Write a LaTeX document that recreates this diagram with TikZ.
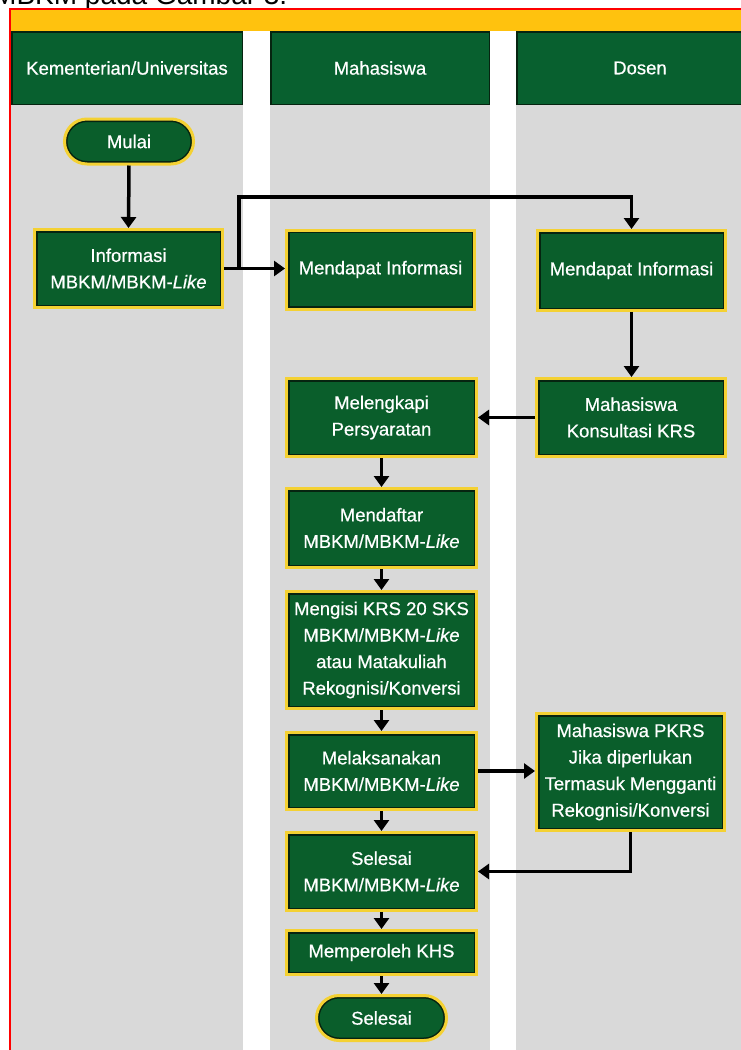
\documentclass[tikz,border=0pt]{standalone}
\usepackage{fontspec}
\setmainfont{Liberation Sans}
\newfontfamily\boxfont[FakeBold=0.6]{Liberation Sans}
\usetikzlibrary{arrows.meta}
\definecolor{hdrgreen}{HTML}{08602F}
\definecolor{boxgreen}{HTML}{0A5E2B}
\definecolor{boxyellow}{HTML}{F4D133}
\definecolor{lanegray}{HTML}{D9D9D9}
\definecolor{bandyellow}{HTML}{FFC20E}
\definecolor{edgedark}{HTML}{062410}
\definecolor{framered}{HTML}{FF0000}
\tikzset{
  lanehdr/.style={rectangle, fill=hdrgreen, draw=edgedark, line width=1.5pt, text=white,
    font=\boxfont\fontsize{18.5}{22}\selectfont, minimum height=72.5pt, inner sep=0pt},
  stepbox/.style={rectangle, fill=boxgreen, draw=boxyellow, line width=3pt, text=white,
    font=\boxfont\fontsize{18.5}{26.5}\selectfont, align=center, inner sep=0pt,
    path picture={\draw[line width=6pt, edgedark] (path picture bounding box.south west) rectangle (path picture bounding box.north east);}},
  termbox/.style={stepbox, rounded corners=22.5pt,
    path picture={\draw[line width=6pt, edgedark, rounded corners=22.5pt] (path picture bounding box.south west) rectangle (path picture bounding box.north east);}},
  flow/.style={line width=3.5pt, -{Triangle[length=11pt,width=15pt]}},
}
\begin{document}
\begin{tikzpicture}[x=1pt, y=-1pt]
\useasboundingbox (0,0) rectangle (741,1050);
\fill[white] (0,0) rectangle (741,1050);
% clipped caption fragment at top
\begin{scope}
  \clip (0,0) rectangle (741,8);
  \node[anchor=base west, inner sep=0pt, font=\fontsize{28}{28}\selectfont] (cap) at (-7,4) {MBKM pada Gambar 3.};
\end{scope}
% band and lanes
\fill[bandyellow] (11,9) rectangle (741,31);
\fill[lanegray] (11,105) rectangle (243,1050);
\fill[lanegray] (270,105) rectangle (490,1050);
\fill[lanegray] (516,105) rectangle (741,1050);
\node[lanehdr, minimum width=230.5pt] (h1) at (127,68) {Kementerian/Universitas};
\node[lanehdr, minimum width=218.5pt] (h2) at (380,68) {Mahasiswa};
\node[lanehdr, minimum width=246pt] (h3) at (640,68) {Dosen};
\draw[framered, line width=2pt] (10,1060) -- (10,9) -- (760,9);
% nodes
\node[termbox, minimum width=129pt, minimum height=45pt] (mulai) at (129,141.5) {Mulai};
\node[stepbox, minimum width=188pt, minimum height=78pt] (info) at (128.5,268.5) {Informasi\\MBKM/MBKM-\textit{Like}};
\node[stepbox, minimum width=188pt, minimum height=79pt] (mi2) at (380.5,269.5) {Mendapat Informasi};
\node[stepbox, minimum width=188pt, minimum height=80pt] (mi3) at (631.5,270.5) {Mendapat Informasi};
\node[stepbox, minimum width=189pt, minimum height=78pt] (kons) at (631,417.5) {Mahasiswa\\Konsultasi KRS};
\node[stepbox, minimum width=190pt, minimum height=78pt] (leng) at (381.5,417.5) {Melengkapi\\Persyaratan};
\node[stepbox, minimum width=190pt, minimum height=79pt] (daftar) at (381.5,528) {Mendaftar\\MBKM/MBKM-\textit{Like}};
\node[stepbox, minimum width=190pt, minimum height=117pt] (isi) at (381.5,650) {Mengisi KRS 20 SKS\\MBKM/MBKM-\textit{Like}\\atau Matakuliah\\Rekognisi/Konversi};
\node[stepbox, minimum width=190pt, minimum height=77pt] (laks) at (381.5,771) {Melaksanakan\\MBKM/MBKM-\textit{Like}};
\node[stepbox, minimum width=188pt, minimum height=117pt] (pkrs) at (630.5,772) {Mahasiswa PKRS\\Jika diperlukan\\Termasuk Mengganti\\Rekognisi/Konversi};
\node[stepbox, minimum width=190pt, minimum height=78pt] (sel) at (381.5,871.5) {Selesai\\MBKM/MBKM-\textit{Like}};
\node[stepbox, minimum width=190pt, minimum height=44pt] (khs) at (381.5,952.5) {Memperoleh KHS};
\node[termbox, minimum width=130pt, minimum height=45pt] (akhir) at (381.5,1018) {Selesai};
% connectors
\coordinate (bt) at (239,197);
\draw[flow] (mulai.south) -- (info.north);
\draw[flow] (info.east) -- (info.east -| mi2.west);
\draw[flow] (info.east) -| (bt) -| (mi3.north);
\draw[flow] (mi3.south) -- (mi3.south |- kons.north);
\draw[flow] (kons.west) -- (leng.east);
\draw[flow] (leng.south) -- (daftar.north);
\draw[flow] (daftar.south) -- (isi.north);
\draw[flow] (isi.south) -- (laks.north);
\draw[flow] (laks.east) -- (laks.east -| pkrs.west);
\draw[flow] (laks.south) -- (sel.north);
\draw[flow] (pkrs.south) |- (sel.east);
\draw[flow] (sel.south) -- (khs.north);
\draw[flow] (khs.south) -- (akhir.north);
\end{tikzpicture}
\end{document}
